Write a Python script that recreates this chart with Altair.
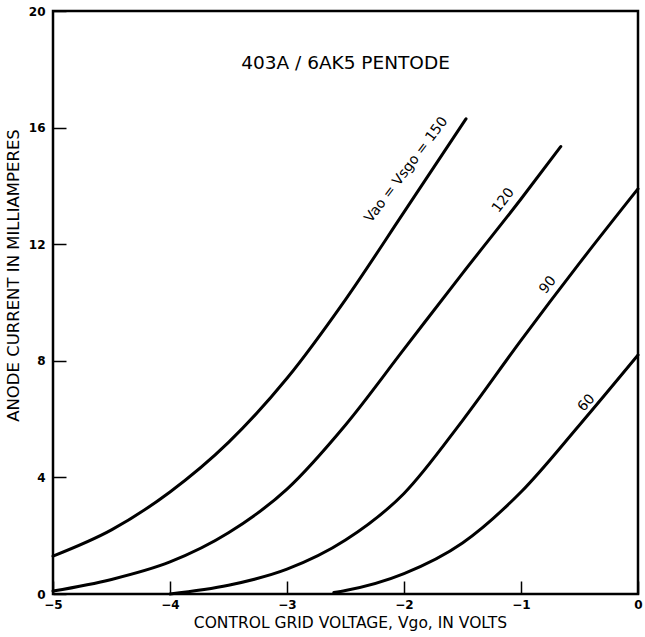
import altair as alt
import pandas as pd

# Anode current (mA) against control grid voltage (V), one curve per Va = Vsg setting
grid_150 = [-5.0, -4.5, -4.0, -3.5, -3.0, -2.5, -2.0, -1.47]
ma_150 = [1.3, 2.2, 3.5, 5.2, 7.4, 10.1, 13.1, 16.3]

grid_120 = [-5.0, -4.5, -4.0, -3.5, -3.0, -2.5, -2.0, -1.5, -1.0, -0.66]
ma_120 = [0.1, 0.5, 1.1, 2.1, 3.6, 5.8, 8.4, 11.0, 13.55, 15.35]

grid_90 = [-4.0, -3.5, -3.0, -2.5, -2.0, -1.5, -1.0, -0.5, 0.0]
ma_90 = [0.0, 0.3, 0.85, 1.85, 3.45, 5.95, 8.7, 11.35, 13.9]

grid_60 = [-2.6, -2.5, -2.0, -1.5, -1.0, -0.5, 0.0]
ma_60 = [0.05, 0.12, 0.7, 1.75, 3.5, 5.8, 8.2]

series = [
    ("150", grid_150, ma_150),
    ("120", grid_120, ma_120),
    ("90", grid_90, ma_90),
    ("60", grid_60, ma_60),
]

# Curve annotations, written alongside each curve
label_text = ["Vao = Vsgo = 150", "120", "90", "60"]
label_grid = [-1.98, -1.15, -0.77, -0.44]
label_ma = [14.55, 13.5, 10.6, 6.55]
label_angle = [307, 307, 309, 312]

heading = "403A / 6AK5 PENTODE"
heading_grid = -2.5
heading_ma = 18.2

x_ticks = [-5, -4, -3, -2, -1, 0]
y_ticks = [0, 4, 8, 12, 16, 20]

rows = []
for name, gs, ms in series:
    for g, m in zip(gs, ms):
        rows.append({"series": name, "grid": g, "current": m})
curves = pd.DataFrame(rows)

labels = pd.DataFrame(
    {"text": label_text, "grid": label_grid, "current": label_ma, "angle": label_angle}
)
title_df = pd.DataFrame({"text": [heading], "grid": [heading_grid], "current": [heading_ma]})

FONT = "DejaVu Sans"

x_scale = alt.Scale(domain=[-5, 0], nice=False, zero=False)
y_scale = alt.Scale(domain=[0, 20], nice=False)

x_axis = alt.Axis(
    values=x_ticks,
    format="d",
    offset=-13,
    tickSize=13,
    tickWidth=1.5,
    tickColor="black",
    domain=False,
    grid=False,
    labelPadding=5,
    labelFont=FONT,
    labelFontSize=12,
    labelFontWeight="bold",
    labelColor="black",
    labelFlush=False,
    title="CONTROL GRID VOLTAGE, Vgo, IN VOLTS",
    titleFont=FONT,
    titleFontSize=15.5,
    titleFontWeight="normal",
    titleColor="black",
    titleX=297,
    titleY=41,
    titleBaseline="middle",
)

y_axis = alt.Axis(
    values=y_ticks,
    format="d",
    offset=-13,
    tickSize=13,
    tickWidth=1.5,
    tickColor="black",
    domain=False,
    grid=False,
    labelPadding=8,
    labelFont=FONT,
    labelFontSize=12,
    labelFontWeight="bold",
    labelColor="black",
    labelFlush=False,
    title="ANODE CURRENT IN MILLIAMPERES",
    titleFont=FONT,
    titleFontSize=16.5,
    titleFontWeight="normal",
    titleColor="black",
    titleX=-53,
    titleY=264,
    titleAngle=270,
    titleAlign="center",
    titleBaseline="middle",
)

lines = (
    alt.Chart(curves)
    .mark_line(stroke="black", strokeWidth=3, interpolate="monotone", strokeCap="round")
    .encode(
        x=alt.X("grid:Q", scale=x_scale, axis=x_axis),
        y=alt.Y("current:Q", scale=y_scale, axis=y_axis),
        detail="series:N",
        order="grid:Q",
    )
)

curve_labels = (
    alt.Chart(labels)
    .mark_text(font=FONT, fontSize=14, color="black", align="center", baseline="middle")
    .encode(
        x=alt.X("grid:Q", scale=x_scale),
        y=alt.Y("current:Q", scale=y_scale),
        text="text:N",
        angle=alt.Angle("angle:Q", scale=None),
    )
)

heading_mark = (
    alt.Chart(title_df)
    .mark_text(font=FONT, fontSize=18.5, color="black", align="center", baseline="middle")
    .encode(
        x=alt.X("grid:Q", scale=x_scale),
        y=alt.Y("current:Q", scale=y_scale),
        text="text:N",
    )
)

chart = (
    alt.layer(lines, curve_labels, heading_mark)
    .properties(
        width=585,
        height=583,
        padding={"left": 53, "top": 11, "right": 7, "bottom": 43},
        autosize=alt.AutoSizeParams(type="none"),
        background="white",
    )
    .configure_view(stroke="black", strokeWidth=2.5)
)

chart.save("out.html", embed_options={"renderer": "svg", "actions": False})
